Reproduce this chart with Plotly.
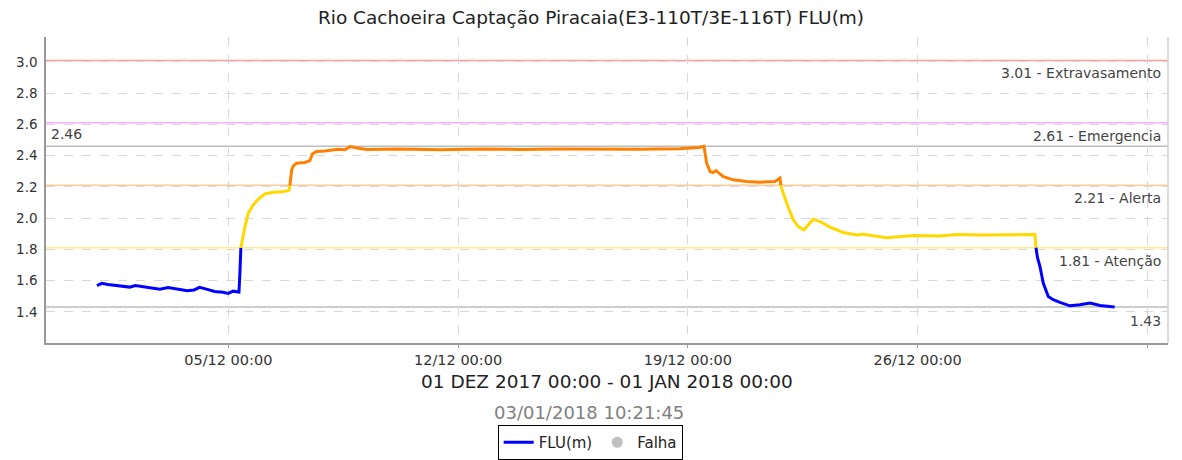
import plotly.graph_objects as go
from datetime import datetime, timedelta

# ---------------- data ----------------
title_text = "Rio Cachoeira Captação Piracaia(E3-110T/3E-116T) FLU(m)"
period_text = "01 DEZ 2017 00:00 - 01 JAN 2018 00:00"
stamp_text = "03/01/2018 10:21:45"

start_time = datetime(2017, 12, 1)
hours_since_start = [
    0, 3.5, 8, 13, 18, 24, 28, 33, 39, 46, 52, 58, 66, 71, 75, 80, 86, 92, 96,
    99.4, 101, 103.8, 104.5, 105.2, 106.2, 108.2, 110.6, 114.3, 117.9, 122.8,
    127.7, 135, 139.9, 140.6, 141.0, 141.6, 142.4, 143.5, 146, 152, 155.7,
    157.4, 160.6, 166.7, 176.4, 181.3, 185, 191, 197.2, 221.5, 250.8, 280,
    309, 338, 367.6, 396.9, 426, 440, 443.8, 444.8, 445.7, 448.2, 450.6,
    452.5, 457.9, 465.2, 475, 484.7, 495.7, 499.3, 500.0, 500.6, 504.2, 509,
    512.7, 516.9, 523.7, 528.6, 535.9, 545.6, 555.4, 560.2, 577.3, 596.8,
    616.3, 628.5, 645.5, 657.7, 674.8, 685.7, 686.5, 687.5, 689.4, 691.8,
    695.5, 699.1, 704, 711.3, 718.6, 726, 733.3, 740.6, 744,
]
flu_values = [
    1.568, 1.582, 1.575, 1.570, 1.566, 1.558, 1.568, 1.562, 1.557, 1.545,
    1.556, 1.548, 1.535, 1.540, 1.556, 1.545, 1.530, 1.525, 1.518, 1.532,
    1.528, 1.526, 1.650, 1.810, 1.860, 1.946, 2.032, 2.085, 2.121, 2.155,
    2.164, 2.168, 2.176, 2.180, 2.210, 2.270, 2.310, 2.334, 2.352, 2.356,
    2.368, 2.411, 2.426, 2.430, 2.441, 2.438, 2.458, 2.448, 2.440, 2.442,
    2.438, 2.443, 2.440, 2.442, 2.440, 2.441, 2.445, 2.452, 2.460, 2.410,
    2.352, 2.298, 2.292, 2.304, 2.266, 2.245, 2.234, 2.230, 2.234, 2.256,
    2.210, 2.190, 2.096, 1.989, 1.946, 1.925, 1.993, 1.978, 1.942, 1.908,
    1.892, 1.897, 1.875, 1.889, 1.886, 1.895, 1.892, 1.893, 1.895, 1.895,
    1.810, 1.750, 1.690, 1.584, 1.498, 1.477, 1.460, 1.438, 1.445, 1.456,
    1.440, 1.435, 1.430,
]

threshold_values = [3.01, 2.61, 2.21, 1.81]
threshold_names = ["Extravasamento", "Emergencia", "Alerta", "Atenção"]
threshold_line_colors = ["#ffa0a0", "#ffaaff", "#ffcc99", "#ffee88"]
max_value_label = 2.46
min_value_label = 1.43

band_limits = [1.81, 2.21, 2.61]
band_colors = ["#0000ff", "#ffd800", "#ff8000", "#ff00ff"]

x_tick_dates = ["2017-12-05", "2017-12-12", "2017-12-19", "2017-12-26", "2018-01-02"]
x_tick_labels = ["05/12 00:00", "12/12 00:00", "19/12 00:00", "26/12 00:00", "02/01 00:00"]
y_tick_values = [1.4, 1.6, 1.8, 2.0, 2.2, 2.4, 2.6, 2.8, 3.0]
x_range = ["2017-11-29 10:44", "2018-01-02 15:00"]
y_range = [1.20, 3.16]

legend_names = ["FLU(m)", "Falha"]

# ---------------- build ----------------
times = [start_time + timedelta(hours=h) for h in hours_since_start]


def band_color(v):
    for lim, col in zip(band_limits, band_colors):
        if v < lim:
            return col
    return band_colors[-1]


fig = go.Figure()

# split into colored runs by threshold band
runs = []
cur_col = None
cur_x, cur_y = [], []
for i in range(len(times) - 1):
    mid = (flu_values[i] + flu_values[i + 1]) / 2
    col = band_color(mid)
    if col != cur_col:
        if cur_col is not None:
            runs.append((cur_col, cur_x, cur_y))
        cur_col = col
        cur_x, cur_y = [times[i]], [flu_values[i]]
    cur_x.append(times[i + 1])
    cur_y.append(flu_values[i + 1])
runs.append((cur_col, cur_x, cur_y))

for col, xs, ys in runs:
    fig.add_trace(go.Scatter(x=xs, y=ys, mode="lines",
                             line=dict(color=col, width=3),
                             showlegend=False, hoverinfo="x+y"))

# legend entries
fig.add_trace(go.Scatter(x=[None], y=[None], mode="lines", name=legend_names[0],
                         line=dict(color="#0000ff", width=3)))
fig.add_trace(go.Scatter(x=[None], y=[None], mode="markers", name=legend_names[1],
                         marker=dict(color="#c0c0c0", size=11)))

shapes = []
annotations = []
label_font = dict(family="DejaVu Sans", size=14, color="#444444")

for val, name, col in zip(threshold_values, threshold_names, threshold_line_colors):
    shapes.append(dict(type="line", xref="paper", x0=0, x1=1, yref="y", y0=val, y1=val,
                       line=dict(color=col, width=1.5), layer="below"))
    annotations.append(dict(xref="paper", x=1, xanchor="right", xshift=-5,
                            yref="y", y=val, yanchor="top", yshift=-3,
                            text=f"{val:.2f} - {name}", showarrow=False, font=label_font))

for val in [max_value_label, min_value_label]:
    shapes.append(dict(type="line", xref="paper", x0=0, x1=1, yref="y", y0=val, y1=val,
                       line=dict(color="#bdbdbd", width=1.5), layer="below"))
annotations.append(dict(xref="paper", x=0, xanchor="left", xshift=3,
                        yref="y", y=max_value_label, yanchor="bottom", yshift=2,
                        text=f"{max_value_label:.2f}", showarrow=False, font=label_font))
annotations.append(dict(xref="paper", x=1, xanchor="right", xshift=-5,
                        yref="y", y=min_value_label, yanchor="top", yshift=-4,
                        text=f"{min_value_label:.2f}", showarrow=False, font=label_font))

# right border
shapes.append(dict(type="line", xref="paper", x0=1, x1=1, yref="paper", y0=0, y1=1,
                   line=dict(color="#d0d0d0", width=1.5), layer="below"))

annotations.append(dict(xref="paper", x=0.5, xanchor="center", yref="paper", y=-0.1265,
                        yanchor="middle", text=period_text, showarrow=False,
                        font=dict(family="DejaVu Sans", size=18.5, color="#222222")))
annotations.append(dict(xref="paper", x=0.484, xanchor="center", yref="paper", y=-0.226,
                        yanchor="middle", text=stamp_text, showarrow=False,
                        font=dict(family="DejaVu Sans", size=18, color="#808080")))

# the page body adds an 8px offset, so the figure is 8px smaller on each side
fig.update_layout(
    width=1174, height=452,
    margin=dict(l=38, r=14, t=29, b=117, autoexpand=False),
    paper_bgcolor="white", plot_bgcolor="white",
    title=dict(text=title_text, xref="container", x=(591 - 8) / 1174, xanchor="center",
               yref="container", y=1 - 10 / 452, yanchor="middle",
               font=dict(family="DejaVu Sans", size=18.5, color="#222222")),
    font=dict(family="DejaVu Sans", color="#333333"),
    shapes=shapes, annotations=annotations,
    showlegend=True,
    legend=dict(orientation="h", x=0.485, xanchor="center", y=-0.268, yanchor="top",
                bordercolor="#000000", borderwidth=1, bgcolor="white",
                font=dict(family="DejaVu Sans", size=15, color="#222222"),
                itemwidth=30, tracegroupgap=0),
)

fig.update_xaxes(type="date", range=x_range, tickvals=x_tick_dates, ticktext=x_tick_labels,
                 showgrid=True, gridcolor="#d8d8d8", griddash="dash", gridwidth=1,
                 showline=True, linecolor="#999999", linewidth=1.5,
                 ticks="outside", ticklen=3, tickcolor="#999999",
                 tickfont=dict(family="DejaVu Sans", size=14.5, color="#333333"),
                 zeroline=False, automargin=False)
fig.update_yaxes(range=y_range, tickvals=y_tick_values, tickformat=".1f",
                 showgrid=True, gridcolor="#d8d8d8", griddash="dash", gridwidth=1,
                 showline=True, linecolor="#999999", linewidth=1.5,
                 ticks="", ticklabelstandoff=4,
                 tickfont=dict(family="DejaVu Sans", size=13.5, color="#333333"),
                 zeroline=False, automargin=False)

fig.write_html("out.html")
